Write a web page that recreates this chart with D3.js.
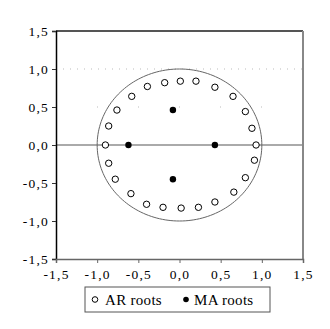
<!DOCTYPE html>
<html>
<head>
<meta charset="utf-8">
<script src="https://cdn.jsdelivr.net/npm/d3@7"></script>
<style>
  body { margin: 0; background: #fff; }
</style>
</head>
<body>
<div id="chart"></div>
<script>
// inverse roots
const arRe = [-0.90, -0.86, -0.76, -0.58, -0.39, -0.18, 0.01, 0.20, 0.43, 0.65, 0.80, 0.88,
              0.93, 0.91, 0.80, 0.66, 0.43, 0.23, 0.02, -0.20, -0.40, -0.59, -0.78, -0.86];
const arIm = [0.00, 0.25, 0.46, 0.64, 0.77, 0.82, 0.84, 0.84, 0.76, 0.64, 0.44, 0.22,
              0.00, -0.20, -0.43, -0.62, -0.75, -0.82, -0.83, -0.82, -0.78, -0.64, -0.45, -0.24];
const maRe = [-0.62, 0.43, -0.08, -0.08];
const maIm = [0.00, 0.00, 0.46, -0.45];
const ticks = [-1.5, -1.0, -0.5, 0.0, 0.5, 1.0, 1.5];
const legendLabels = ['AR roots', 'MA roots'];

const W = 330, H = 329;
const margin = { top: 31, right: 27, bottom: 70, left: 56 };
const width = W - margin.left - margin.right;
const height = H - margin.top - margin.bottom;
const serif = '"Liberation Serif", "DejaVu Serif", serif';

const fmt = d => d3.format('.1f')(d).replace('.', ',').replace('−', '-');

const x = d3.scaleLinear().domain([-1.5, 1.5]).range([0, width]);
const y = d3.scaleLinear().domain([-1.5, 1.5]).range([height, 0]);

const svg = d3.select('#chart').append('svg')
  .attr('width', W).attr('height', H);
const g = svg.append('g')
  .attr('transform', 'translate(' + margin.left + ',' + margin.top + ')');

// faint dotted grid
g.selectAll('.grid').data([1.0, 0.5])
  .enter().append('line')
  .attr('x1', 0).attr('x2', width)
  .attr('y1', d => y(d)).attr('y2', d => y(d))
  .attr('stroke', '#bbb').attr('stroke-width', 1)
  .attr('stroke-dasharray', d => d === 1.0 ? '1,6' : '1,40');

// zero line
g.append('line')
  .attr('x1', 0).attr('x2', width)
  .attr('y1', y(0)).attr('y2', y(0))
  .attr('stroke', '#aaa').attr('stroke-width', 2);

// unit circle
const angles = d3.range(0, 361, 2);
g.append('path')
  .datum(angles)
  .attr('d', d3.line()
    .x(a => x(Math.cos(a * Math.PI / 180)))
    .y(a => y(Math.sin(a * Math.PI / 180))))
  .attr('fill', 'none').attr('stroke', '#666').attr('stroke-width', 1);

// frame top/right
g.append('line').attr('x1', 0).attr('x2', width).attr('y1', 0).attr('y2', 0)
  .attr('stroke', '#555').attr('stroke-width', 2);
g.append('line').attr('x1', width).attr('x2', width).attr('y1', 0).attr('y2', height)
  .attr('stroke', '#888').attr('stroke-width', 2);

// axes
const yAxis = g.append('g').call(d3.axisLeft(y).tickValues(ticks).tickFormat(fmt).tickSizeOuter(0).tickSize(4));
const xAxis = g.append('g').attr('transform', 'translate(0,' + height + ')')
  .call(d3.axisBottom(x).tickValues(ticks).tickFormat(fmt).tickSizeOuter(0).tickSize(4));
yAxis.select('.domain').attr('stroke', '#000').attr('stroke-width', 1.5);
xAxis.select('.domain').attr('stroke', '#666').attr('stroke-width', 1.5);
yAxis.selectAll('.tick line').attr('stroke', '#333');
xAxis.selectAll('.tick line').attr('stroke', '#666');
[yAxis, xAxis].forEach(a => a.attr('font-family', serif).selectAll('text')
  .attr('font-family', serif).attr('letter-spacing', 1.2)
  .attr('font-size', 13.5).attr('fill', '#000'));
yAxis.selectAll('text').attr('x', -7);
xAxis.selectAll('text').attr('y', 10);

// AR roots
g.selectAll('.ar').data(arRe)
  .enter().append('circle')
  .attr('cx', d => x(d))
  .attr('cy', (d, i) => y(arIm[i]))
  .attr('r', 3.2)
  .attr('fill', '#fff').attr('stroke', '#000').attr('stroke-width', 1);

// MA roots
g.selectAll('.ma').data(maRe)
  .enter().append('circle')
  .attr('cx', d => x(d))
  .attr('cy', (d, i) => y(maIm[i]))
  .attr('r', 3.2)
  .attr('fill', '#000');

// legend
const lg = svg.append('g').attr('transform', 'translate(85,287)')
  .attr('font-family', serif).attr('font-size', 15).attr('letter-spacing', 0.3);
lg.append('rect').attr('width', 185).attr('height', 25)
  .attr('fill', '#fff').attr('stroke', '#555').attr('stroke-width', 1);
lg.append('circle').attr('cx', 10).attr('cy', 12.5).attr('r', 2.8)
  .attr('fill', '#fff').attr('stroke', '#000');
lg.append('text').attr('x', 20).attr('y', 17.5).text(legendLabels[0]);
lg.append('circle').attr('cx', 101).attr('cy', 12.5).attr('r', 2.8).attr('fill', '#000');
lg.append('text').attr('x', 109).attr('y', 17.5).text(legendLabels[1]);
</script>
</body>
</html>
